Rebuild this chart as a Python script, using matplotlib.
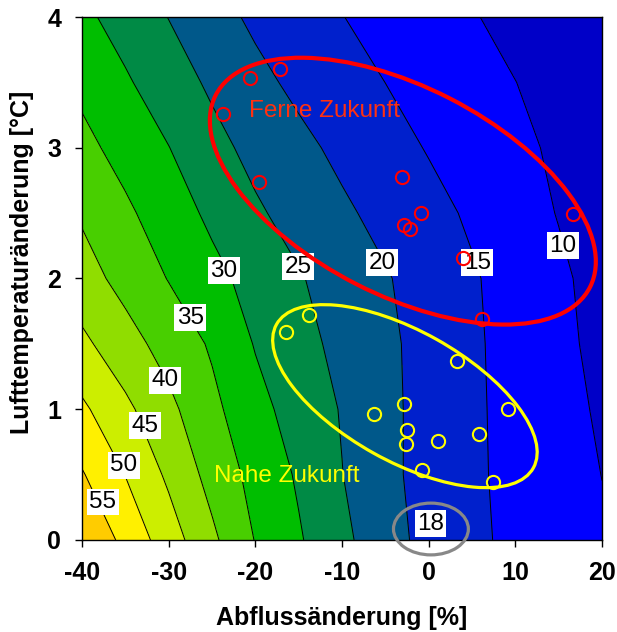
import numpy as np
import matplotlib.pyplot as plt
from matplotlib.patches import Ellipse

plt.rcParams['font.family'] = ['Liberation Sans', 'DejaVu Sans']
plt.rcParams['axes.unicode_minus'] = False

# grid of the contoured field: columns = Abflussaenderung, rows = Temperaturaenderung
dq = np.arange(-40, 21, 5)
dt = np.arange(0, 4.01, 0.5)
z = np.array([
    [59.9, 53.6, 47.4, 41.0, 34.8, 30.5, 26.2, 21.9, 18.5, 16.0, 13.9, 12.2, 10.5],
    [55.4, 49.9, 44.1, 38.3, 33.4, 29.4, 25.1, 21.2, 18.3, 15.8, 13.7, 11.8, 9.95],
    [50.9, 46.1, 41.2, 36.2, 31.6, 27.9, 24.7, 21.2, 18.3, 15.8, 13.5, 11.5, 9.4],
    [46.1, 41.9, 38.1, 34.4, 29.7, 26.6, 23.7, 21.0, 18.3, 15.7, 13.4, 11.1, 8.8],
    [42.0, 38.4, 34.8, 31.4, 28.3, 25.4, 22.8, 20.4, 17.9, 15.5, 13.1, 10.8, 8.4],
    [39.4, 35.9, 32.4, 29.0, 25.7, 23.2, 20.8, 18.6, 16.5, 14.3, 12.0, 9.8, 7.5],
    [36.4, 33.2, 30.1, 26.5, 23.6, 21.2, 18.9, 16.8, 14.7, 12.9, 11.1, 9.2, 7.4],
    [33.8, 30.6, 27.3, 24.2, 21.3, 18.9, 17.0, 14.98, 13.3, 11.7, 10.05, 8.4, 6.7],
    [31.1, 28.0, 24.9, 21.8, 19.1, 17.1, 15.1, 13.5, 11.9, 10.3, 8.7, 7.1, 5.5],
])

line_levels = [10, 15, 20, 25, 30, 35, 40, 45, 50, 55]
fill_levels = [0] + line_levels + [100]
fill_colors = ['#0000C8', '#0000FF', '#0020CC', '#00588A', '#008A45', '#00BE00',
               '#48CF00', '#90DD00', '#CCEE00', '#FFF000', '#FFCC00']

# scenario points
ferne_dq = [-17.1, -20.65, -23.7, -19.6, -3.1, -0.9, -2.9, -2.2, 4.0, 6.1, 16.65]
ferne_dt = [3.6, 3.53, 3.26, 2.74, 2.78, 2.5, 2.41, 2.38, 2.16, 1.69, 2.49]
nahe_dq = [-13.8, -16.5, 3.3, -6.3, -2.9, -2.5, -2.6, 1.1, -0.8, 5.8, 9.15, 7.4]
nahe_dt = [1.72, 1.59, 1.37, 0.96, 1.04, 0.845, 0.735, 0.756, 0.532, 0.807, 1.0, 0.443]

fig = plt.figure(figsize=(6.17, 6.32), dpi=100)
ax = fig.add_axes([0.1329, 0.1456, 0.8428, 0.8275])

ax.contourf(dq, dt, z, levels=fill_levels, colors=fill_colors)
cs = ax.contour(dq, dt, z, levels=line_levels, colors='black', linewidths=0.7)

# contour labels (placed like in the original)
label_pos = [(15.5, 2.25), (5.6, 2.12), (-5.4, 2.12), (-15.1, 2.09), (-23.65, 2.06),
             (-27.5, 1.70), (-30.4, 1.22), (-32.7, 0.875), (-35.2, 0.57), (-37.6, 0.29)]
for (x, y), lev in zip(label_pos, line_levels):
    ax.text(x, y, str(lev), fontsize=17.5, ha='center', va='center', zorder=3,
            bbox=dict(boxstyle='square,pad=0.1', fc='white', ec='none'))
ax.text(0.2, 0.125, '18', fontsize=17.5, ha='center', va='center', zorder=3,
        bbox=dict(boxstyle='square,pad=0.1', fc='white', ec='none'))

ax.add_patch(Ellipse((0.617, 0.667), 0.808, 0.398, angle=-27, transform=ax.transAxes,
                     fill=False, ec='#FF0000', lw=3, zorder=4))
ax.add_patch(Ellipse((0.621, 0.275), 0.565, 0.249, angle=-29, transform=ax.transAxes,
                     fill=False, ec='#FFFF00', lw=2.3, zorder=4))
ax.add_patch(Ellipse((0.671, 0.021), 0.144, 0.099, transform=ax.transAxes,
                     fill=False, ec='#888888', lw=2.3, zorder=6, clip_on=False))

ax.plot(ferne_dq, ferne_dt, 'o', mfc='none', mec='#FF0000', ms=9.5, mew=1.5, zorder=5)
ax.plot(nahe_dq, nahe_dt, 'o', mfc='none', mec='#FFFF00', ms=9.5, mew=1.5, zorder=5)

ax.text(-20.7, 3.28, 'Ferne Zukunft', color='#FF3010', fontsize=17.5, va='center', zorder=5)
ax.text(-24.8, 0.49, 'Nahe Zukunft', color='#FFFF00', fontsize=17.5, va='center', zorder=5)

ax.set_xlim(-40, 20)
ax.set_ylim(0, 4)
ax.set_xticks(range(-40, 21, 10))
ax.set_yticks(range(0, 5))
ax.tick_params(direction='out', length=5, width=1, labelsize=18, pad=10)
for lab in ax.get_xticklabels() + ax.get_yticklabels():
    lab.set_fontweight('bold')
for sp in ax.spines.values():
    sp.set_linewidth(1)

fig.text(342 / 617, 1 - 618 / 632, 'Abflussänderung [%]', fontsize=18, fontweight='bold',
         ha='center', va='center')
fig.text(22 / 617, 1 - 262 / 632, 'Lufttemperaturänderung [°C]', fontsize=18,
         fontweight='bold', rotation=90, ha='center', va='center')

fig.savefig('out.png', dpi=100)
